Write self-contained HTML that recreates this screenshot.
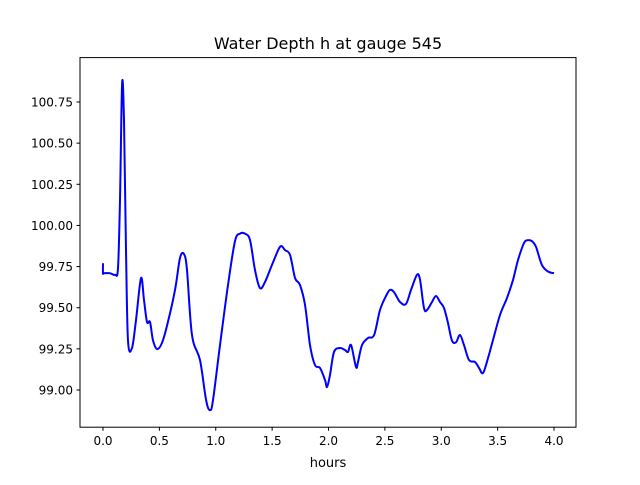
<!DOCTYPE html>
<html><head><meta charset="utf-8"><style>
body{margin:0;background:#fff;}
svg text{font-family:"DejaVu Sans","Liberation Sans",sans-serif;}
</style></head><body>
<svg width="640" height="480" xmlns="http://www.w3.org/2000/svg">
<rect width="640" height="480" fill="#fff"/>
<text x="328" y="49" font-size="16" text-anchor="middle">Water Depth h at gauge 545</text>
<g id="ticks"></g>
<path id="line" fill="none" stroke="#0000ff" stroke-width="2" stroke-linejoin="round"/>
<rect x="80" y="57.6" width="496" height="369.6" fill="none" stroke="#000" stroke-width="1"/>
<text x="328" y="467" font-size="13" text-anchor="middle">hours</text>
</svg>
<script>
const hours=[0,0,0.009,0.062,0.106,0.133,0.151,0.169,0.186,0.204,0.222,0.257,0.293,0.337,0.364,0.39,0.417,0.443,0.479,0.523,0.576,0.639,0.683,0.718,0.745,0.789,0.86,0.914,0.949,0.976,1.038,1.109,1.171,1.215,1.259,1.304,1.348,1.392,1.437,1.499,1.57,1.614,1.659,1.703,1.747,1.792,1.836,1.88,1.925,1.969,1.987,2.013,2.049,2.102,2.146,2.173,2.2,2.244,2.262,2.297,2.35,2.404,2.457,2.51,2.545,2.581,2.634,2.687,2.732,2.785,2.812,2.847,2.874,2.918,2.953,2.989,3.024,3.06,3.095,3.131,3.166,3.202,3.246,3.299,3.335,3.37,3.415,3.459,3.521,3.583,3.636,3.681,3.734,3.769,3.805,3.84,3.893,3.947,4.0];
const depth=[99.77,99.71,99.71,99.71,99.70,99.74,100.155,100.86,100.64,99.85,99.30,99.255,99.425,99.68,99.547,99.413,99.413,99.304,99.249,99.286,99.413,99.608,99.802,99.826,99.729,99.334,99.182,98.939,98.878,98.939,99.273,99.638,99.905,99.95,99.95,99.911,99.729,99.62,99.656,99.76,99.87,99.85,99.82,99.681,99.638,99.517,99.273,99.152,99.134,99.061,99.018,99.091,99.231,99.255,99.243,99.231,99.273,99.14,99.17,99.273,99.316,99.334,99.486,99.571,99.608,99.595,99.535,99.523,99.608,99.70,99.668,99.498,99.486,99.535,99.571,99.535,99.498,99.407,99.30,99.29,99.334,99.273,99.182,99.17,99.134,99.103,99.194,99.304,99.456,99.559,99.668,99.79,99.893,99.91,99.904,99.87,99.76,99.72,99.71];
const xTicks=[0,0.5,1,1.5,2,2.5,3,3.5,4];
const xTickLabels=["0.0","0.5","1.0","1.5","2.0","2.5","3.0","3.5","4.0"];
const yTicks=[99,99.25,99.5,99.75,100,100.25,100.5,100.75];
const yTickLabels=["99.00","99.25","99.50","99.75","100.00","100.25","100.50","100.75"];
const X=h=>103+h*112.75;
const Y=v=>390-(v-99)*164.57;
const NS="http://www.w3.org/2000/svg";
const g=document.getElementById('ticks');
xTicks.forEach((t,i)=>{
 const l=document.createElementNS(NS,'line');
 l.setAttribute('x1',X(t));l.setAttribute('x2',X(t));l.setAttribute('y1',427.2);l.setAttribute('y2',430.7);l.setAttribute('stroke','#000');
 
 
 g.appendChild(l);
 const tx=document.createElementNS(NS,'text');
 tx.setAttribute('x',X(t));tx.setAttribute('y',445);tx.setAttribute('font-size','12');tx.setAttribute('text-anchor','middle');
 tx.textContent=xTickLabels[i];
 
 
 g.appendChild(tx);
});
yTicks.forEach((t,i)=>{
 const l=document.createElementNS(NS,'line');
 l.setAttribute('x1',76.5);l.setAttribute('x2',80);l.setAttribute('y1',Y(t));l.setAttribute('y2',Y(t));l.setAttribute('stroke','#000');
 
 
 g.appendChild(l);
 const tx=document.createElementNS(NS,'text');
 tx.setAttribute('x',73);tx.setAttribute('y',Y(t)+4.5);tx.setAttribute('font-size','12');tx.setAttribute('text-anchor','end');
 tx.textContent=yTickLabels[i];
 
 
 g.appendChild(tx);
});
const pts=hours.map((h,i)=>[X(h),Y(depth[i])]);
let d='M'+pts[0][0]+','+pts[0][1];
for(let i=0;i<pts.length-1;i++){
 const p0=pts[Math.max(0,i-1)],p1=pts[i],p2=pts[i+1],p3=pts[Math.min(pts.length-1,i+2)];
 const c1=[p1[0]+(p2[0]-p0[0])/6,p1[1]+(p2[1]-p0[1])/6];
 const c2=[p2[0]-(p3[0]-p1[0])/6,p2[1]-(p3[1]-p1[1])/6];
 d+=' C'+c1[0].toFixed(1)+','+c1[1].toFixed(1)+' '+c2[0].toFixed(1)+','+c2[1].toFixed(1)+' '+p2[0].toFixed(1)+','+p2[1].toFixed(1);
}
document.getElementById('line').setAttribute('d',d);
</script>
</body></html>
